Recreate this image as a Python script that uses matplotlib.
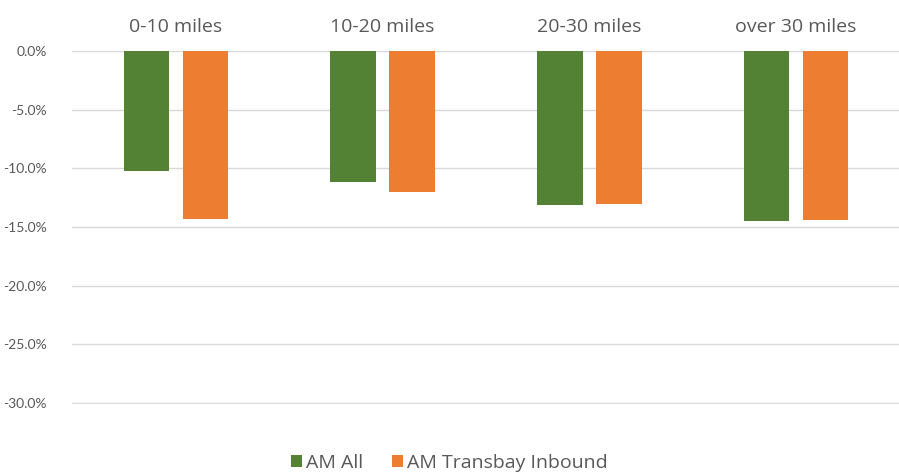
import matplotlib.pyplot as plt
import numpy as np
from matplotlib.ticker import FuncFormatter

categories = ["0-10 miles", "10-20 miles", "20-30 miles", "over 30 miles"]
am_all = [-10.2, -11.2, -13.1, -14.5]
am_transbay = [-14.3, -12.0, -13.0, -14.4]
series_names = ["AM All", "AM Transbay Inbound"]
colors = ["#548235", "#ED7D31"]

plt.rcParams['font.family'] = ['Lato', 'DejaVu Sans']

fig = plt.figure(figsize=(8.99, 4.72), dpi=100)
ax = fig.add_axes([72 / 899, 1 - 404 / 472, (899 - 72) / 899, (404 - 51) / 472])

x = np.arange(len(categories))
w = 0.22
ax.bar(x - 0.14, am_all, w, color=colors[0], label=series_names[0], zorder=3)
ax.bar(x + 0.145, am_transbay, w, color=colors[1], label=series_names[1], zorder=3)

ax.set_xlim(-0.5, 3.5)
ax.set_ylim(-30.08, 0)
ax.set_yticks(np.arange(-30, 1, 5))
ax.yaxis.set_major_formatter(FuncFormatter(lambda v, p: f"{v:.1f}%"))
ax.grid(axis='y', color='#d9d9d9', linewidth=1, zorder=0)
ax.set_xticks(x)
ax.set_xticklabels(categories, family=['Open Sans', 'DejaVu Sans'])
ax.xaxis.tick_top()
ax.tick_params(axis='x', length=0, pad=11, labelsize=14, labelcolor='#595959')
ax.tick_params(axis='y', length=0, pad=18, labelsize=10, labelcolor='#595959')
for s in ax.spines.values():
    s.set_visible(False)

fig.legend(loc='upper center', bbox_to_anchor=(0.5, 0.075), ncol=2, frameon=False,
           prop={'family': ['Open Sans', 'DejaVu Sans'], 'size': 14},
           handlelength=0.55, handleheight=0.55, handletextpad=0.2,
           columnspacing=1.5, labelcolor='#595959',
           handles=ax.get_legend_handles_labels()[0])

fig.savefig("out.png", dpi=100)
